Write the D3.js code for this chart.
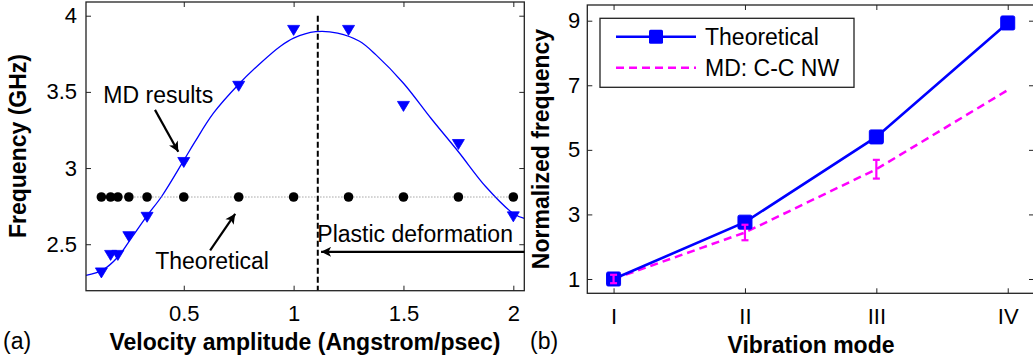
<!DOCTYPE html>
<html>
<head>
<meta charset="utf-8">
<script src="https://cdnjs.cloudflare.com/ajax/libs/d3/7.8.5/d3.min.js"></script>
<style>
  body { margin: 0; background: #fff; }
  svg { display: block; }
  text { font-family: Arial, "Liberation Sans", sans-serif; fill: #000; }
</style>
</head>
<body>
<script>

/**
 * Panel (a) data: frequency vs velocity amplitude
 */
var velocity = [0.125, 0.167, 0.2, 0.25, 0.333, 0.5, 0.75, 1, 1.25, 1.5, 1.75, 2];
var mdFrequency = [2.315, 2.43, 2.43, 2.553, 2.68, 3.04, 3.54, 3.907, 3.907, 3.408, 3.158, 2.683];
var theoryFrequency = [2.81, 2.81, 2.81, 2.81, 2.81, 2.81, 2.81, 2.81, 2.81, 2.81, 2.81, 2.81];

// fitted curve
var fitVelocity  = [0.055, 0.13, 0.2, 0.26, 0.335, 0.4, 0.5, 0.55, 0.635, 0.75, 0.85, 0.94, 1.0, 1.1, 1.2, 1.3, 1.375, 1.5, 1.625, 1.75, 1.875, 2.0, 2.05];
var fitFrequency = [2.296, 2.33, 2.416, 2.537, 2.691, 2.815, 3.05, 3.17, 3.36, 3.55, 3.69, 3.80, 3.853, 3.895, 3.886, 3.832, 3.743, 3.557, 3.327, 3.107, 2.877, 2.702, 2.669];

var plasticLimit = 1.11;
var xTicksA = [0.5, 1, 1.5, 2];
var yTicksA = [2.5, 3, 3.5, 4];

/**
 * Panel (b) data: normalized frequency per vibration mode
 */
var modes = ["I", "II", "III", "IV"];
var theoryNormalized = [1, 2.76, 5.40, 8.93];
var mdNormalized = [1, 2.44, 4.40, 6.85];
var mdError = [0.13, 0.24, 0.29, 0];
var yTicksB = [1, 3, 5, 7, 9];

/**
 * Layout
 */
var W = 1033, H = 363;
var tickFont = "22px";
var labelFont = "23px";
var frameColor = "#222";
var blue = "#0000ff";
var magenta = "#ff00ff";

var svg = d3.select("body").append("svg")
    .attr("width", W)
    .attr("height", H);

var defs = svg.append("defs");
defs.append("marker")
    .attr("id", "arrowHead")
    .attr("viewBox", "0 0 10 10")
    .attr("refX", 10).attr("refY", 5)
    .attr("markerWidth", 17).attr("markerHeight", 10)
    .attr("markerUnits", "userSpaceOnUse")
    .attr("orient", "auto")
    .append("path")
    .attr("d", "M0,0 L10,5 L0,10 L2.5,5 Z")
    .attr("fill", "#000");

/**
 * Draw the frame with inward ticks on all four sides
 */
function drawFrame(g, x, y, xTicks, yTicks, xFormat, yPad) {
    var x0 = x.range()[0], x1 = x.range()[1];
    var y0 = y.range()[0], y1 = y.range()[1];

    g.append("g")
        .attr("transform", "translate(0," + y0 + ")")
        .call(d3.axisBottom(x).tickValues(xTicks).tickSize(-5).tickPadding(15).tickFormat(xFormat))
        .call(styleAxis);
    g.append("g")
        .attr("transform", "translate(0," + y1 + ")")
        .call(d3.axisTop(x).tickValues(xTicks).tickSize(-5).tickFormat(""))
        .call(styleAxis);
    g.append("g")
        .attr("transform", "translate(" + x0 + ",0)")
        .call(d3.axisLeft(y).tickValues(yTicks).tickSize(-5).tickPadding(yPad).tickFormat(d3.format("")))
        .call(styleAxis);
    g.append("g")
        .attr("transform", "translate(" + x1 + ",0)")
        .call(d3.axisRight(y).tickValues(yTicks).tickSize(-5).tickFormat(""))
        .call(styleAxis);

    g.append("rect")
        .attr("x", x0).attr("y", y1)
        .attr("width", x1 - x0).attr("height", y0 - y1)
        .attr("fill", "none")
        .attr("stroke", frameColor)
        .attr("stroke-width", 1.3);
}

function styleAxis(a) {
    a.select(".domain").remove();
    a.selectAll(".tick line").attr("stroke", frameColor).attr("stroke-width", 1);
    a.selectAll(".tick text")
        .attr("font-size", tickFont)
        .attr("font-family", "Arial, 'Liberation Sans', sans-serif")
        .attr("fill", "#000");
}

/**
 * Panel (a)
 */
var xA = d3.scaleLinear().domain([0.055, 2.05]).range([86, 524.3]);
var yA = d3.scaleLinear().domain([2.195, 4.09]).range([290.7, 2]);
var gA = svg.append("g");

var fitData = fitVelocity.map(function (v, i) { return [v, fitFrequency[i]]; });
gA.append("path")
    .datum(fitData)
    .attr("d", d3.line()
        .x(function (d) { return xA(d[0]); })
        .y(function (d) { return yA(d[1]); })
        .curve(d3.curveCatmullRom.alpha(0.5)))
    .attr("fill", "none")
    .attr("stroke", blue)
    .attr("stroke-width", 1.3);

// theoretical: dotted line with black dots
gA.append("path")
    .datum(velocity)
    .attr("d", d3.line()
        .x(function (d) { return xA(d); })
        .y(function (d, i) { return yA(theoryFrequency[i]); }))
    .attr("fill", "none")
    .attr("stroke", "#777")
    .attr("stroke-width", 1)
    .attr("stroke-dasharray", "1,2");

gA.selectAll("circle.theory")
    .data(velocity)
    .enter()
    .append("circle")
    .attr("class", "theory")
    .attr("cx", function (d) { return xA(d); })
    .attr("cy", function (d, i) { return yA(theoryFrequency[i]); })
    .attr("r", 4.8)
    .attr("fill", "#000");

// MD results: downward triangles
gA.selectAll("path.md")
    .data(velocity)
    .enter()
    .append("path")
    .attr("class", "md")
    .attr("transform", function (d, i) {
        return "translate(" + xA(d) + "," + yA(mdFrequency[i]) + ")";
    })
    .attr("d", "M-6,-4.5 L6,-4.5 L0,5.5 Z")
    .attr("fill", blue)
    .attr("stroke", blue)
    .attr("stroke-width", 0.8);

// plastic deformation limit
gA.append("line")
    .attr("x1", xA(plasticLimit)).attr("x2", xA(plasticLimit))
    .attr("y1", yA(4)).attr("y2", yA(2.195))
    .attr("stroke", "#000")
    .attr("stroke-width", 2)
    .attr("stroke-dasharray", "6,3");

drawFrame(gA, xA, yA, xTicksA, yTicksA, d3.format(""), 9);

// annotations, positioned in data coordinates
var arrowsA = [
    {x1: 0.369, y1: 3.382, x2: 0.475, y2: 3.107},
    {x1: 0.62, y1: 2.46, x2: 0.734, y2: 2.70},
    {x1: 2.05, y1: 2.45, x2: 1.125, y2: 2.45}
];
gA.selectAll("line.arrow")
    .data(arrowsA)
    .enter()
    .append("line")
    .attr("class", "arrow")
    .attr("x1", function (d) { return xA(d.x1); })
    .attr("y1", function (d) { return yA(d.y1); })
    .attr("x2", function (d) { return xA(d.x2); })
    .attr("y2", function (d) { return yA(d.y2); })
    .attr("stroke", "#000")
    .attr("stroke-width", 2.2)
    .attr("marker-end", "url(#arrowHead)");

var notesA = [
    {x: 0.134, y: 3.426, text: "MD results"},
    {x: 0.37, y: 2.34, text: "Theoretical"},
    {x: 1.108, y: 2.515, text: "Plastic deformation"}
];
gA.selectAll("text.note")
    .data(notesA)
    .enter()
    .append("text")
    .attr("class", "note")
    .attr("x", function (d) { return xA(d.x); })
    .attr("y", function (d) { return yA(d.y); })
    .attr("font-size", labelFont)
    .text(function (d) { return d.text; });

gA.append("text")
    .attr("x", 305).attr("y", 350)
    .attr("text-anchor", "middle")
    .attr("font-size", labelFont)
    .attr("font-weight", "bold")
    .text("Velocity amplitude (Angstrom/psec)");

gA.append("text")
    .attr("transform", "translate(26,146) rotate(-90)")
    .attr("text-anchor", "middle")
    .attr("font-size", labelFont)
    .attr("font-weight", "bold")
    .text("Frequency (GHz)");

gA.append("text")
    .attr("x", 3).attr("y", 349)
    .attr("font-size", labelFont)
    .text("(a)");

/**
 * Panel (b)
 */
var xB = d3.scaleLinear().domain([0.8, 4.2]).range([587.3, 1034]);
var yB = d3.scaleLinear().domain([0.557, 9.486]).range([293.3, 5]);
var gB = svg.append("g");
var modeIndex = modes.map(function (d, i) { return i + 1; });

drawFrame(gB, xB, yB, modeIndex, yTicksB, function (d) { return modes[d - 1]; }, 7);

// MD line, dashed magenta with error bars
gB.append("path")
    .datum(modeIndex)
    .attr("d", d3.line()
        .x(function (d) { return xB(d); })
        .y(function (d, i) { return yB(mdNormalized[i]); }))
    .attr("fill", "none")
    .attr("stroke", magenta)
    .attr("stroke-width", 2.5)
    .attr("stroke-dasharray", "8,5");

// theoretical line with square markers
gB.append("path")
    .datum(modeIndex)
    .attr("d", d3.line()
        .x(function (d) { return xB(d); })
        .y(function (d, i) { return yB(theoryNormalized[i]); }))
    .attr("fill", "none")
    .attr("stroke", blue)
    .attr("stroke-width", 2.6);

gB.selectAll("rect.theory")
    .data(modeIndex)
    .enter()
    .append("rect")
    .attr("class", "theory")
    .attr("x", function (d) { return xB(d) - 7; })
    .attr("y", function (d, i) { return yB(theoryNormalized[i]) - 7; })
    .attr("width", 14).attr("height", 14)
    .attr("rx", 1.5)
    .attr("fill", blue)
    .attr("stroke", blue)
    .attr("stroke-width", 1);

var errB = gB.selectAll("g.err")
    .data(modeIndex.filter(function (d, i) { return mdError[i] > 0; }))
    .enter()
    .append("g")
    .attr("class", "err")
    .attr("stroke", magenta)
    .attr("stroke-width", 2.2);
errB.append("line")
    .attr("x1", function (d) { return xB(d); })
    .attr("x2", function (d) { return xB(d); })
    .attr("y1", function (d) { return yB(mdNormalized[d - 1] - mdError[d - 1]); })
    .attr("y2", function (d) { return yB(mdNormalized[d - 1] + mdError[d - 1]); });
errB.append("line")
    .attr("x1", function (d) { return xB(d) - 3.5; })
    .attr("x2", function (d) { return xB(d) + 3.5; })
    .attr("y1", function (d) { return yB(mdNormalized[d - 1] - mdError[d - 1]); })
    .attr("y2", function (d) { return yB(mdNormalized[d - 1] - mdError[d - 1]); });
errB.append("line")
    .attr("x1", function (d) { return xB(d) - 3.5; })
    .attr("x2", function (d) { return xB(d) + 3.5; })
    .attr("y1", function (d) { return yB(mdNormalized[d - 1] + mdError[d - 1]); })
    .attr("y2", function (d) { return yB(mdNormalized[d - 1] + mdError[d - 1]); });

// legend
var legend = gB.append("g");
legend.append("rect")
    .attr("x", 600).attr("y", 18.3)
    .attr("width", 254).attr("height", 69)
    .attr("fill", "#fff")
    .attr("stroke", frameColor)
    .attr("stroke-width", 1.3);
legend.append("line")
    .attr("x1", 616).attr("x2", 696).attr("y1", 36.7).attr("y2", 36.7)
    .attr("stroke", blue).attr("stroke-width", 2.6);
legend.append("rect")
    .attr("x", 649).attr("y", 29.7).attr("width", 14).attr("height", 14)
    .attr("rx", 1.5)
    .attr("fill", blue);
legend.append("line")
    .attr("x1", 616).attr("x2", 696).attr("y1", 67.7).attr("y2", 67.7)
    .attr("stroke", magenta).attr("stroke-width", 2.5)
    .attr("stroke-dasharray", "8,5");
legend.append("text")
    .attr("x", 705).attr("y", 45)
    .attr("font-size", labelFont)
    .text("Theoretical");
legend.append("text")
    .attr("x", 705).attr("y", 76)
    .attr("font-size", labelFont)
    .text("MD: C-C NW");

gB.append("text")
    .attr("x", 811).attr("y", 353)
    .attr("text-anchor", "middle")
    .attr("font-size", labelFont)
    .attr("font-weight", "bold")
    .text("Vibration mode");

gB.append("text")
    .attr("transform", "translate(549,149) rotate(-90)")
    .attr("text-anchor", "middle")
    .attr("font-size", labelFont)
    .attr("font-weight", "bold")
    .text("Normalized frequency");

gB.append("text")
    .attr("x", 530).attr("y", 349)
    .attr("font-size", labelFont)
    .text("(b)");

</script>
</body>
</html>
